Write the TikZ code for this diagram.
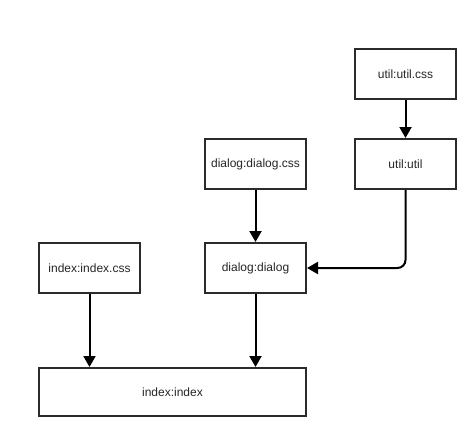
\documentclass[tikz,border=0pt]{standalone}
\usepackage{fontspec}
\setmainfont{Liberation Sans}
\usetikzlibrary{arrows.meta,calc}
\definecolor{edge}{HTML}{2B2B2B}
\tikzset{
  box/.style={draw=edge, line width=2pt, fill=white, minimum width=101pt, minimum height=50pt, inner sep=0pt, font=\fontsize{12}{14}\selectfont, text=black!85},
  conn/.style={draw=black, line width=2pt, -{Triangle[length=11pt,width=12pt]}}
}
\begin{document}
\begin{tikzpicture}[x=1pt,y=-1pt]
\useasboundingbox (0,0) rectangle (476,437);
\node[box] (utilcss) at (405.5,74) {util:util.css};
\node[box, minimum height=50pt] (util) at (405.5,164) {util:util};
\node[box] (dialogcss) at (255.5,164) {dialog:dialog.css};
\node[box] (dialog) at (255.5,268) {dialog:dialog};
\node[box] (indexcss) at (89.5,268) {index:index.css};
\node[box, minimum width=267pt, minimum height=48pt] (index) at (172.5,392) {index:index};
\draw[conn] (utilcss.south) -- (util.north);
\draw[conn] (dialogcss.south) -- (dialog.north);
\draw[conn, rounded corners=8pt] (util.south) |- (dialog.east);
\draw[conn] (indexcss.south) -- (indexcss.south |- index.north);
\draw[conn] (dialog.south) -- (dialog.south |- index.north);
\end{tikzpicture}
\end{document}
